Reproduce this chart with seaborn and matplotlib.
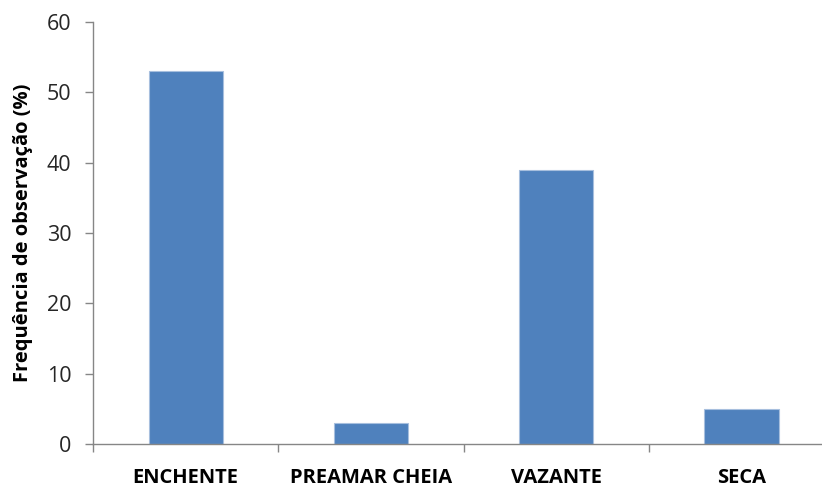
import matplotlib
matplotlib.use("Agg")
import matplotlib.pyplot as plt
import seaborn as sns
import pandas as pd

categories = ["ENCHENTE", "PREAMAR CHEIA", "VAZANTE", "SECA"]
values = [53, 3, 39, 5]
yticks = [0, 10, 20, 30, 40, 50, 60]

sns.set_style("white")
plt.rcParams['font.family'] = ['Open Sans', 'DejaVu Sans']
plt.rcParams['text.color'] = 'black'
plt.rcParams['xtick.color'] = 'black'
plt.rcParams['ytick.color'] = 'black'
plt.rcParams['axes.labelcolor'] = 'black'

df = pd.DataFrame({"cat": categories, "val": values})

fig = plt.figure(figsize=(8.22, 4.87), dpi=100)
ax = fig.add_axes([93/822, 43/487, (822-93)/822, (444-22)/487])
sns.barplot(data=df, x="cat", y="val", ax=ax, color="#4F81BD", width=0.4,
            saturation=1, edgecolor="#A7BFDE", linewidth=0.8)

ax.set_ylim(0, 60)
ax.set_yticks(yticks)
ax.set_xlim(-0.5, -0.5 + (822-93)/185.3)
ax.set_xticks([-0.5, 0.5, 1.5, 2.5])
ax.set_xticklabels([])
ax.set_xticks(range(4), minor=True)
ax.set_xticklabels(categories, minor=True, fontsize=14.5, fontweight="bold")
ax.tick_params(axis="x", which="minor", bottom=True, length=0, pad=17, labelcolor="black")
ax.tick_params(axis="x", which="major", bottom=True, length=5.5, direction="out", color="#868686", width=1)
ax.tick_params(axis="y", left=True, length=5.5, direction="out", color="#868686", width=1,
               labelsize=15.5, pad=10, labelcolor="#262626")

for s in ["top", "right"]:
    ax.spines[s].set_visible(False)
for s in ["left", "bottom"]:
    ax.spines[s].set_color("#868686")
    ax.spines[s].set_linewidth(1)

ax.set_xlabel("")
ax.set_ylabel("Frequência de observação (%)", fontsize=14.5, fontweight="bold", labelpad=10, color="black")

fig.savefig("out.png", dpi=100)
